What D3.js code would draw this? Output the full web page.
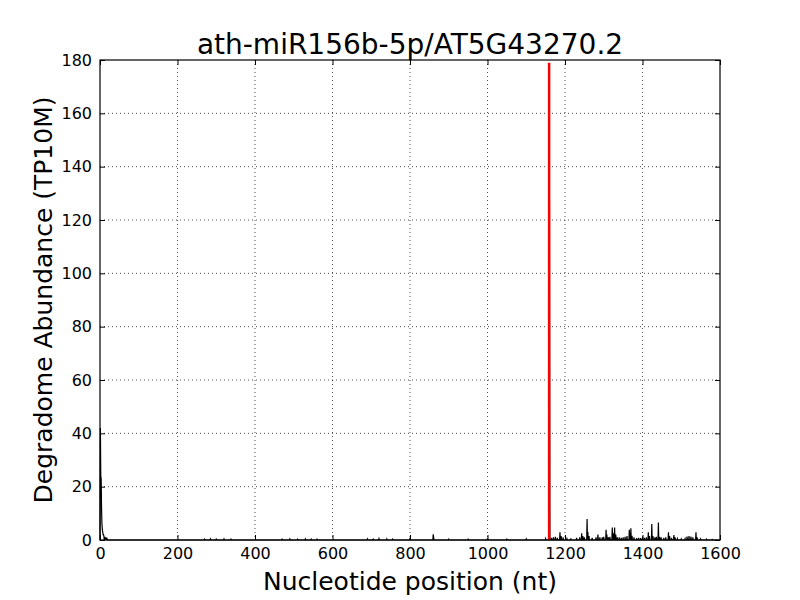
<!DOCTYPE html>
<html><head><meta charset="utf-8">
<script src="https://cdn.jsdelivr.net/npm/d3@7"></script>
<style>body{margin:0;background:#fff}svg{display:block}text{font-family:"DejaVu Sans",sans-serif}</style>
</head><body>
<svg id="c" width="800" height="600"></svg>
<script>
const title = "ath-miR156b-5p/AT5G43270.2";
const xLabel = "Nucleotide position (nt)";
const yLabel = "Degradome Abundance (TP10M)";
const transcriptLength = 1597;
const xTicks = [0,200,400,600,800,1000,1200,1400,1600];
const yTicks = [0,20,40,60,80,100,120,140,160,180];
// sparse non-zero read positions / abundances (all other positions are 0)
const peakPos = [1,2,3,4,5,6,7,8,9,10,12,14,16,18,
 270,285,300,320,338,470,490,510,530,545,560,690,705,720,740,755,800,860,861,900,950,1000,1050,1100,
 1150,1160,1165,1170,1175,1180,1187,1190,1195,1205,1215,1230,1238,1243,1246,1250,1257,1259,1262,1270,1280,1285,1290,1296,1300,
 1306,1308,1312,1316,1322,1325,1328,1331,1335,1340,1345,1350,1355,1360,1366,1368,1370,1373,1378,1385,1390,1395,1400,1405,1410,
 1415,1418,1424,1427,1432,1436,1441,1444,1448,1455,1460,1467,1470,1475,1481,1484,1490,1500,1510,1515,1520,1525,1530,1538,1541,1550,1565,1580];
const peakVal = [42,24,23,12,6,4,3,2,2,1.5,1.2,1,0.8,0.5,
 0.3,0.4,0.3,0.4,0.3,0.3,0.4,0.3,0.4,0.3,0.3,0.4,0.3,0.5,0.4,0.3,0.8,2.1,1.0,0.3,0.3,0.6,0.3,0.4,
 0.5,127,0.8,1,1.2,0.8,2.9,1.5,1,0.5,0.6,0.8,1,2.5,1.5,1,7.9,3,1.5,0.8,1,2,1,1,1.2,
 3.8,2,1,1.2,4.7,2.5,4.7,2,1,1,0.8,1,1.2,1.5,3.8,2.5,4.4,1.6,1,0.7,0.8,0.7,1,0.8,1,
 2.9,1.5,6,1.5,1,1.2,6.6,1.2,1,0.8,1,2.9,1.5,0.8,1.9,1,0.5,0.4,0.5,1.3,1.5,1.3,1,2.9,1,0.4,0.3,0.2];
const targetPos = [1159];
const targetVal = [179];

const L=100,R=720,T=60,B=540;
const svg=d3.select("#c");
const x=d3.scaleLinear().domain([0,1600]).range([L,R]);
const y=d3.scaleLinear().domain([0,180]).range([B,T]);

const lookup=new Map(peakPos.map((p,i)=>[p,peakVal[i]]));
const series=d3.range(0,transcriptLength+1).map(p=>({p,v:lookup.get(p)||0}));

// grid
const g=svg.append("g");
g.selectAll(".gx").data(xTicks.slice(1,-1)).join("line")
 .attr("x1",d=>x(d)).attr("x2",d=>x(d)).attr("y1",T).attr("y2",B)
 .attr("stroke","#000").attr("stroke-width",0.7).attr("stroke-dasharray","1,3");
g.selectAll(".gy").data(yTicks.slice(1,-1)).join("line")
 .attr("y1",d=>y(d)).attr("y2",d=>y(d)).attr("x1",L).attr("x2",R)
 .attr("stroke","#000").attr("stroke-width",0.7).attr("stroke-dasharray","1,3");

// data line
svg.append("path").datum(series)
 .attr("d",d3.line().x(d=>x(d.p)).y(d=>y(d.v)))
 .attr("fill","none").attr("stroke","#000").attr("stroke-width",1.2);

// target line
const tgt=targetPos.map((p,i)=>({p,v:targetVal[i]}));
svg.selectAll(".tg").data(tgt).join("line")
 .attr("x1",d=>x(d.p)).attr("x2",d=>x(d.p)).attr("y1",y(0)).attr("y2",d=>y(d.v))
 .attr("stroke","#ff0000").attr("stroke-width",2.5);

// axes (ticks inside, all four sides)
const ax=(gen)=>gen.tickSizeInner(-5).tickSizeOuter(0).tickPadding(8);
svg.append("g").attr("transform",`translate(0,${B})`).call(ax(d3.axisBottom(x).tickValues(xTicks).tickFormat(d3.format("d"))));
svg.append("g").attr("transform",`translate(0,${T})`).call(ax(d3.axisTop(x).tickValues(xTicks)).tickFormat(""));
svg.append("g").attr("transform",`translate(${L},0)`).call(ax(d3.axisLeft(y).tickValues(yTicks).tickFormat(d3.format("d"))));
svg.append("g").attr("transform",`translate(${R},0)`).call(ax(d3.axisRight(y).tickValues(yTicks)).tickFormat(""));
svg.selectAll(".domain").remove();
svg.selectAll(".tick text").attr("font-size",16).attr("fill","#000").attr("font-family","DejaVu Sans");
svg.selectAll(".tick line").attr("stroke","#000");
svg.append("rect").attr("x",L).attr("y",T).attr("width",R-L).attr("height",B-T)
 .attr("fill","none").attr("stroke","#000").attr("stroke-width",1.2);

svg.append("text").attr("x",(L+R)/2).attr("y",54).attr("text-anchor","middle")
 .attr("font-size",28).text(title);
svg.append("text").attr("x",(L+R)/2).attr("y",590).attr("text-anchor","middle")
 .attr("font-size",25).text(xLabel);
svg.append("text").attr("transform",`translate(52,${(T+B)/2}) rotate(-90)`).attr("text-anchor","middle")
 .attr("font-size",25).text(yLabel);
</script>
</body></html>
